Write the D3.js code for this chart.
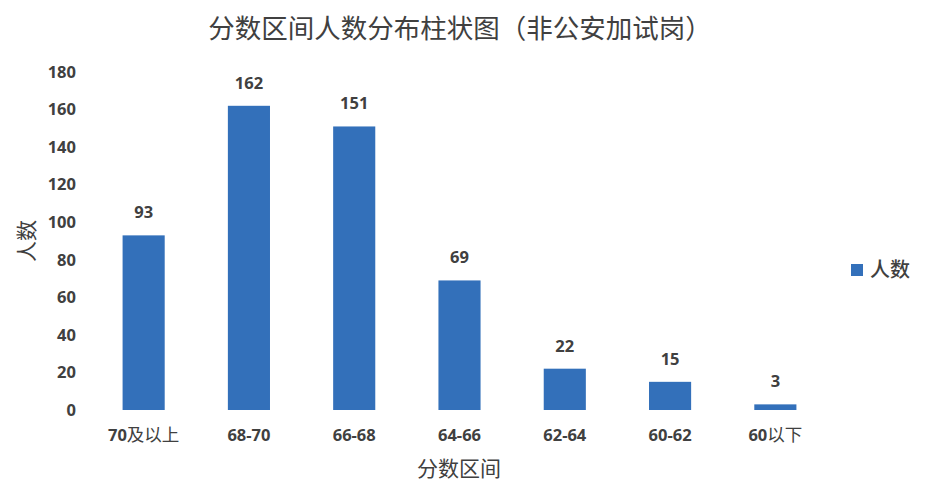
<!DOCTYPE html>
<html>
<head>
<meta charset="utf-8">
<script src="https://cdn.jsdelivr.net/npm/d3@7"></script>
<style>
  html, body { margin: 0; padding: 0; background: #fff; }
  svg text { font-family: "Noto Sans", "Noto Sans CJK SC", sans-serif; }
</style>
</head>
<body>
<svg id="chart" width="927" height="489"></svg>
<script>
// Values.
const categories = ["70及以上", "68-70", "66-68", "64-66", "62-64", "60-62", "60以下"];
const counts = [93, 162, 151, 69, 22, 15, 3];
const yTicks = [0, 20, 40, 60, 80, 100, 120, 140, 160, 180];

const titleText = "分数区间人数分布柱状图（非公安加试岗）";
const xTitle = "分数区间";
const yTitle = "人数";
const seriesName = "人数";

const barColor = "#3370BA";
const textColor = "#404040";

const svg = d3.select("#chart");

// plot box
const plotLeft = 91, plotRight = 828, plotTop = 72, plotBottom = 410;

const x = d3.scaleBand()
  .domain(categories)
  .range([plotLeft, plotRight])
  .paddingInner(0.6)
  .paddingOuter(0.3);

const y = d3.scaleLinear()
  .domain([0, 180])
  .range([plotBottom, plotTop]);

// title (song-style serif in the original, no serif CJK here)
svg.append("text")
  .attr("x", 460).attr("y", 38)
  .attr("text-anchor", "middle")
  .attr("font-family", "'Noto Serif CJK SC', 'Noto Sans CJK SC', serif")
  .attr("font-size", 26.5)
  .attr("fill", "#404040")
  .text(titleText);

// y axis (labels only, no line)
const yAxis = svg.append("g")
  .attr("transform", `translate(${76},0)`)
  .call(d3.axisLeft(y).tickValues(yTicks).tickSize(0).tickPadding(0));
yAxis.select(".domain").remove();
yAxis.selectAll("text")
  .attr("font-family", "'Noto Sans', sans-serif")
  .attr("font-size", 16.5)
  .attr("font-weight", "bold")
  .attr("fill", textColor);

// x axis: digits bold, chinese part regular like the original
const xAxis = svg.append("g")
  .attr("transform", `translate(0,${plotBottom})`)
  .call(d3.axisBottom(x).tickSize(0).tickPadding(19));
xAxis.select(".domain").remove();
xAxis.selectAll("text")
  .attr("font-size", 16.5)
  .attr("fill", textColor)
  .each(function(d) {
    const t = d3.select(this).text("");
    const m = d.match(/^([0-9\-]+)(.*)$/);
    t.append("tspan")
      .attr("font-family", "'Noto Sans', sans-serif")
      .attr("font-weight", "bold")
      .text(m[1]);
    if (m[2]) {
      t.append("tspan")
        .attr("font-family", "'Noto Sans CJK SC', sans-serif")
        .attr("font-weight", "normal")
        .attr("font-size", 17.5)
        .text(m[2]);
    }
  });

// bars
svg.append("g")
  .selectAll("rect")
  .data(counts)
  .join("rect")
  .attr("x", (d, i) => x(categories[i]))
  .attr("y", d => y(d))
  .attr("width", x.bandwidth())
  .attr("height", d => y(0) - y(d))
  .attr("fill", barColor);

// data labels
svg.append("g")
  .selectAll("text")
  .data(counts)
  .join("text")
  .attr("x", (d, i) => x(categories[i]) + x.bandwidth() / 2)
  .attr("y", d => y(d) - 17)
  .attr("text-anchor", "middle")
  .attr("font-family", "'Noto Sans', sans-serif")
  .attr("font-size", 16.5)
  .attr("font-weight", "bold")
  .attr("fill", textColor)
  .text(d => d);

// axis titles
svg.append("text")
  .attr("x", 459).attr("y", 476)
  .attr("text-anchor", "middle")
  .attr("font-family", "'Noto Sans CJK SC', sans-serif")
  .attr("font-size", 21)
  .attr("fill", textColor)
  .text(xTitle);

svg.append("text")
  .attr("transform", "translate(34,241) rotate(-90)")
  .attr("text-anchor", "middle")
  .attr("font-family", "'Noto Sans CJK SC', sans-serif")
  .attr("font-size", 21)
  .attr("fill", textColor)
  .text(yTitle);

// legend
const legend = svg.append("g").attr("transform", "translate(851,264)");
legend.append("rect")
  .attr("width", 12).attr("height", 12)
  .attr("fill", barColor);
legend.append("text")
  .attr("x", 19).attr("y", 13)
  .attr("font-family", "'Noto Sans CJK SC', sans-serif")
  .attr("font-size", 20)
  .attr("font-weight", 500)
  .attr("fill", textColor)
  .text(seriesName);
</script>
</body>
</html>
